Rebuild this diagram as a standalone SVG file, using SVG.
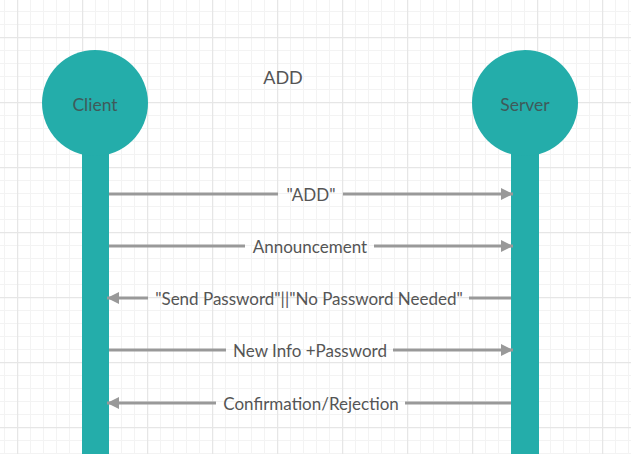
<svg xmlns="http://www.w3.org/2000/svg" width="631" height="454" viewBox="0 0 631 454">
<defs>
<pattern id="grid" x="17" y="37" width="65" height="65" patternUnits="userSpaceOnUse">
<path d="M13.5 0V65M26.5 0V65M39.5 0V65M52.5 0V65M0 13.5H65M0 26.5H65M0 39.5H65M0 52.5H65" stroke="#f3f3f3" stroke-width="1" fill="none"/>
<path d="M0.5 0V65M0 0.5H65" stroke="#e6e6e6" stroke-width="1.5" fill="none"/>
</pattern>
<marker id="ah" viewBox="0 0 12 12" refX="12" refY="6" markerWidth="12" markerHeight="12" markerUnits="userSpaceOnUse" orient="auto">
<path d="M0 0L12 6L0 12Z" fill="#999"/>
</marker>
<style>
.lbl{font-family:Lato,"Open Sans","Liberation Sans",sans-serif;font-size:17px;fill:#555;text-anchor:middle;dominant-baseline:central}
.msg{stroke:#999;stroke-width:3;fill:none}
.act{fill:#24adaa}
.name{font-family:Lato,"Open Sans","Liberation Sans",sans-serif;font-size:17.5px;fill:#3f5a5a;text-anchor:middle;dominant-baseline:central}
</style>
</defs>
<rect width="631" height="454" fill="#fff"/>
<rect width="631" height="454" fill="url(#grid)"/>
<g id="title"><text class="lbl" x="283" y="77" style="font-size:18px">ADD</text></g>
<g id="client">
<rect class="act" x="82" y="140" width="27" height="314"/>
<circle class="act" cx="95" cy="103" r="53"/>
<text class="name" x="95" y="104">Client</text>
</g>
<g id="server">
<rect class="act" x="511" y="140" width="28" height="314"/>
<circle class="act" cx="525" cy="103" r="53"/>
<text class="name" x="525" y="104">Server</text>
</g>
<g id="connectors">
<path class="msg" d="M109 194H278M343 194H513" marker-end="url(#ah)"/>
<text class="lbl" x="311" y="194">"ADD"</text>
<path class="msg" d="M109 246H245M374 246H513" marker-end="url(#ah)"/>
<text class="lbl" x="310" y="246">Announcement</text>
<path class="msg" d="M511 298H469M148 298H107" marker-end="url(#ah)"/>
<text class="lbl" x="309" y="298">"Send Password"||"No Password Needed"</text>
<path class="msg" d="M109 350H226M393 350H513" marker-end="url(#ah)"/>
<text class="lbl" x="310" y="350">New Info +Password</text>
<path class="msg" d="M511 403H405M216 403H107" marker-end="url(#ah)"/>
<text class="lbl" x="311" y="403">Confirmation/Rejection</text>
</g>
</svg>
